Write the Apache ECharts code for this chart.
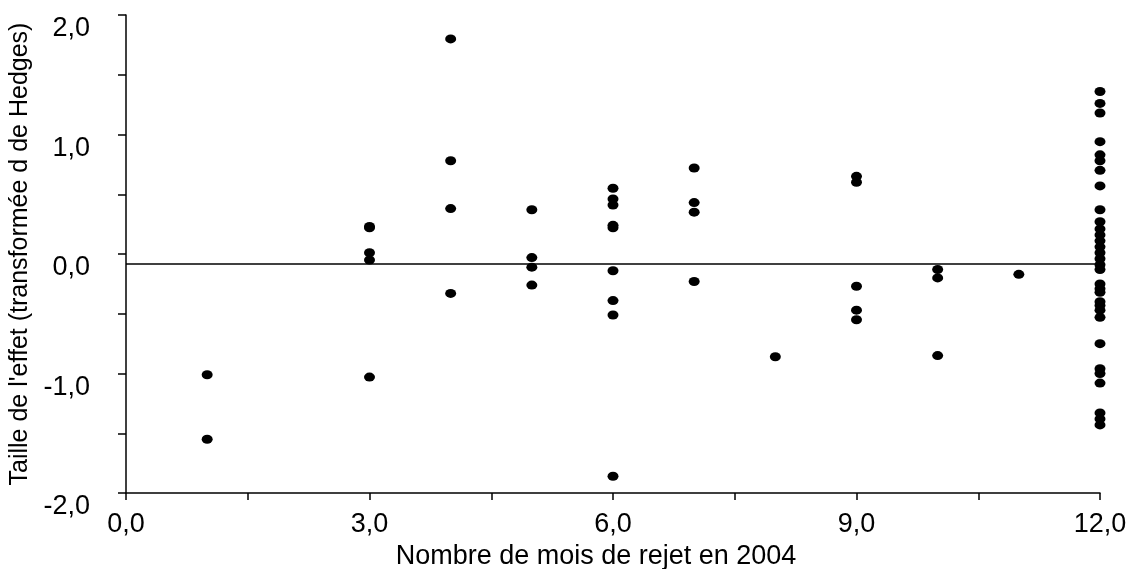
<!DOCTYPE html>
<html>
<head>
<meta charset="utf-8">
<script src="https://cdn.jsdelivr.net/npm/echarts@6/dist/echarts.min.js"></script>
<style>
html,body{margin:0;padding:0;background:#fff;}
#chart{width:1146px;height:569px;}
</style>
</head>
<body>
<div id="chart"></div>
<script>
// Effect sizes (Hedges d transform) grouped by number of rejection months in 2004
const month1 = [-1.01, -1.55];
const month3 = [0.23, 0.22, 0.01, -0.05, -1.03];
const month4 = [1.80, 0.78, 0.38, -0.33];
const month5 = [0.37, -0.03, -0.11, -0.26];
const month6 = [0.55, 0.46, 0.41, 0.24, 0.22, -0.14, -0.39, -0.51, -1.86];
const month7 = [0.72, 0.43, 0.35, -0.23];
const month8 = [-0.86];
const month9 = [0.65, 0.60, -0.27, -0.47, -0.55];
const month10 = [-0.13, -0.20, -0.85];
const month11 = [-0.17];
const month12 = [1.36, 1.26, 1.18, 0.94, 0.83, 0.78, 0.70, 0.57, 0.37, 0.27, 0.21, 0.16, 0.11, 0.06, 0.01,
  -0.04, -0.09, -0.13, -0.25, -0.29, -0.32, -0.40, -0.43, -0.47, -0.53, -0.75, -0.96, -1.00,
  -1.08, -1.33, -1.38, -1.43];
const months = [1, 3, 4, 5, 6, 7, 8, 9, 10, 11, 12];
const groups = [month1, month3, month4, month5, month6, month7, month8, month9, month10, month11, month12];
const meanLineY = -0.085;
const meanLineX = [0, 12];
const xTitle = 'Nombre de mois de rejet en 2004';
const yTitle = "Taille de l'effet (transformée d de Hedges)";

const points = [];
months.forEach((m, i) => groups[i].forEach(v => points.push([m, v])));

const fmt = v => v.toFixed(1).replace('.', ',');
const FONT = 'Liberation Sans, Arial, sans-serif';

const chart = echarts.init(document.getElementById('chart'), null, {renderer: 'canvas'});
chart.setOption({
  animation: false,
  backgroundColor: '#ffffff',
  grid: {left: 126, right: 46, top: 15, bottom: 76, containLabel: false, outerBoundsMode: 'none'},
  xAxis: {
    type: 'value', min: 0, max: 12, interval: 1.5,
    name: xTitle, nameLocation: 'middle', nameGap: 48,
    nameTextStyle: {color: '#000', fontSize: 27, fontFamily: FONT, padding: [0, 34, 0, 0]},
    axisLine: {show: true, onZero: false, lineStyle: {color: '#000', width: 1.5}},
    axisTick: {show: true, inside: false, length: 7, lineStyle: {color: '#000', width: 1.5}},
    axisLabel: {color: '#000', fontSize: 27, fontFamily: FONT, margin: 18,
      formatter: v => (Math.abs(v % 3) < 1e-9 ? fmt(v) : '')},
    splitLine: {show: false}
  },
  yAxis: {
    type: 'value', min: -2, max: 2, interval: 0.5,
    name: yTitle, nameLocation: 'middle', nameGap: 93, nameRotate: 90,
    nameTextStyle: {color: '#000', fontSize: 25, fontFamily: FONT},
    axisLine: {show: true, onZero: false, lineStyle: {color: '#000', width: 1.5}},
    axisTick: {show: true, inside: false, length: 8, lineStyle: {color: '#000', width: 1.5}},
    axisLabel: {color: '#000', fontSize: 27, fontFamily: FONT, margin: 36, verticalAlign: 'top', lineHeight: 28,
      formatter: v => (Math.abs(v - Math.round(v)) < 1e-9 ? fmt(v) : '')},
    splitLine: {show: false}
  },
  series: [{
    type: 'scatter',
    data: points,
    symbol: 'circle',
    symbolSize: [11, 9],
    itemStyle: {color: '#000', opacity: 1},
    markLine: {
      silent: true, symbol: ['none', 'none'], label: {show: false},
      lineStyle: {color: '#000', width: 1.5, type: 'solid'},
      data: [[{coord: [meanLineX[0], meanLineY]}, {coord: [meanLineX[1], meanLineY]}]]
    }
  }]
});
</script>
</body>
</html>
